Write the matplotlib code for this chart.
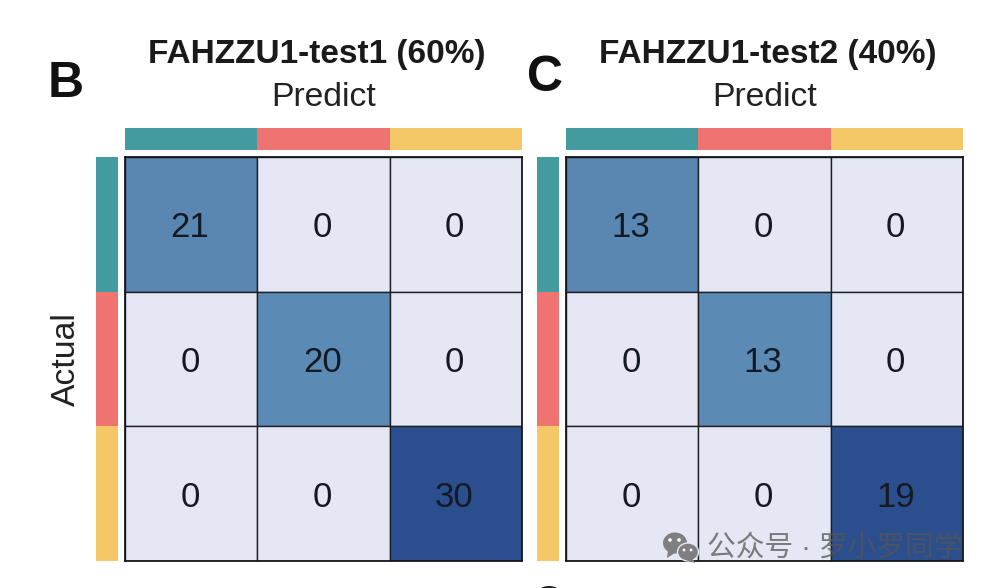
import matplotlib
matplotlib.use('Agg')
import matplotlib.pyplot as plt
from matplotlib.patches import Rectangle, Circle, Ellipse, Polygon

W, H = 994, 588
plt.rcParams['font.family'] = ['Liberation Sans', 'Noto Sans CJK SC', 'DejaVu Sans']

bar_colors = ['#449b9f', '#ef7370', '#f5c867']
titles = ['FAHZZU1-test1 (60%)', 'FAHZZU1-test2 (40%)']
panels = ['B', 'C']
xlabel = 'Predict'
ylabel = 'Actual'
matrix_b = [[21, 0, 0], [0, 20, 0], [0, 0, 30]]
matrix_c = [[13, 0, 0], [0, 13, 0], [0, 0, 19]]
light = '#e5e8f4'
colors_b = [['#5a86b2', light, light], [light, '#5b8bb4', light], [light, light, '#2b4f8e']]
colors_c = [['#5a86b2', light, light], [light, '#5b8bb4', light], [light, light, '#2b4f8e']]
watermark = '公众号 · 罗小罗同学'

fig = plt.figure(figsize=(W/100, H/100), dpi=100, facecolor='white')


def axpx(x0, y0, x1, y1, **kw):
    return fig.add_axes([x0/W, 1-y1/H, (x1-x0)/W, (y1-y0)/H], **kw)


def panel(x0, x1, vals, cols, title, tx, px, label, lx, ly, show_actual):
    y0, y1 = 157, 561
    ax = axpx(x0, y0, x1, y1)
    ax.set_xlim(0, 3)
    ax.set_ylim(3, 0)
    for r in range(3):
        for c in range(3):
            ax.add_patch(Rectangle((c, r), 1, 1, facecolor=cols[r][c], edgecolor='#1c1f26', lw=1.0))
            ax.text(c+.49, r+.525, str(vals[r][c]), ha='center', va='center', fontsize=25, color='#141a24')
    ax.set_xticks([])
    ax.set_yticks([])
    for s in ax.spines.values():
        s.set_linewidth(1.3)
        s.set_color('#15171c')
    top = axpx(x0, 128, x1, 150)
    top.axis('off')
    top.set_xlim(0, 3)
    top.set_ylim(0, 1)
    left = axpx(x0-29, y0, x0-7, y1)
    left.axis('off')
    left.set_xlim(0, 1)
    left.set_ylim(3, 0)
    for i, col in enumerate(bar_colors):
        top.add_patch(Rectangle((i, 0), 1, 1, facecolor=col, lw=0))
        left.add_patch(Rectangle((0, i), 1, 1, facecolor=col, lw=0))
    fig.text(tx/W, 1-54/H, title, ha='center', va='center', fontsize=24, fontweight='bold', color='#1a1a1a')
    fig.text(px/W, 1-98/H, xlabel, ha='center', va='center', fontsize=24.3, color='#222222')
    fig.text(lx/W, 1-ly/H, label, ha='center', va='center', fontsize=36, fontweight='bold', color='#111111')
    if show_actual:
        fig.text(66/W, 1-359/H, ylabel, ha='center', va='center', rotation=90, fontsize=24.3, color='#222222')


panel(125, 522, matrix_b, colors_b, titles[0], 317, 324, panels[0], 66, 84, True)
panel(566, 963, matrix_c, colors_c, titles[1], 768, 765, panels[1], 545, 78, False)

ov = axpx(0, 0, W, H)
ov.axis('off')
ov.set_xlim(0, W)
ov.set_ylim(H, 0)
ov.patch.set_alpha(0)
grey = '#7f7f7f'
ov.add_patch(Ellipse((675, 543), 24, 21, facecolor=grey, lw=0))
ov.add_patch(Polygon([(668, 550), (667, 558), (675, 553)], facecolor=grey, lw=0))
ov.add_patch(Ellipse((688, 552), 21, 18, facecolor=grey, edgecolor=light, lw=1))
ov.add_patch(Polygon([(692, 558), (695, 563), (686, 560)], facecolor=grey, lw=0))
for cx, cy, r in [(670, 540, 1.8), (679, 540, 1.8), (684, 550, 1.4), (691, 550, 1.4)]:
    ov.add_patch(Circle((cx, cy), r, facecolor='white', lw=0))
ov.add_patch(Ellipse((549, 597), 28, 22, facecolor='#222222', lw=0))
ov.text(835, 548, watermark, ha='center', va='center', fontsize=20.7, color='#555555', alpha=.75)

fig.savefig('out.png', dpi=100)
